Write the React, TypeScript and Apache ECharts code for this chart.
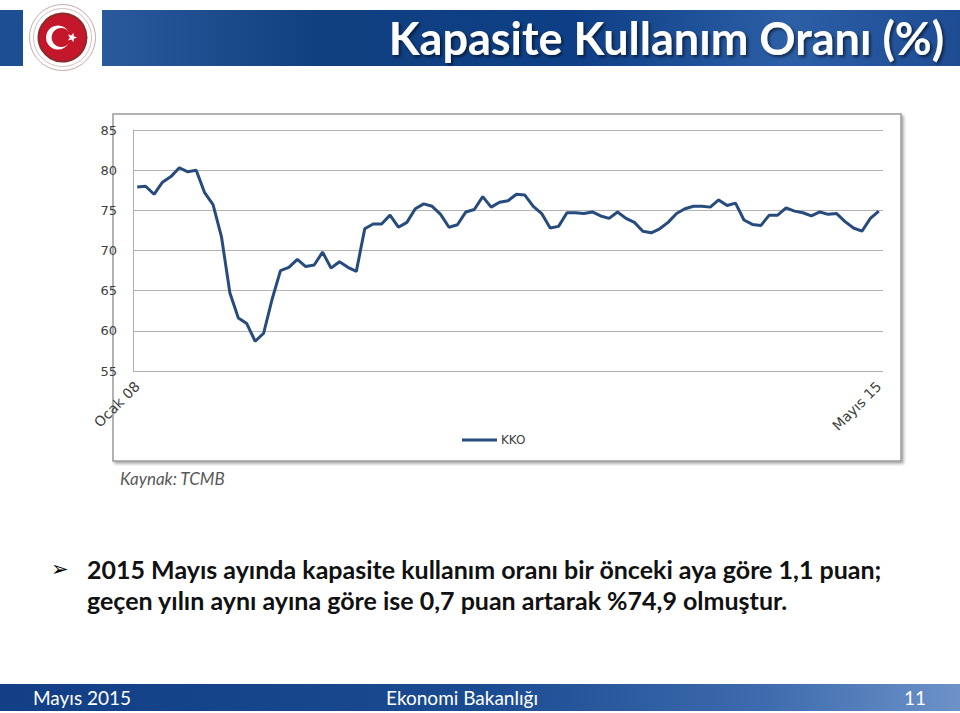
import React, { useEffect, useRef } from "react";
import * as echarts from "echarts";

const MONTHS = ["Ocak", "Şubat", "Mart", "Nisan", "Mayıs", "Haziran", "Temmuz", "Ağustos", "Eylül", "Ekim", "Kasım", "Aralık"];
const YEARS = ["08", "09", "10", "11", "12", "13", "14", "15"];
const LAST_MONTH_INDEX = 4; // Mayıs 15

const CATEGORIES: string[] = [];
YEARS.forEach((y, yi) => {
  MONTHS.forEach((m, mi) => {
    if (yi === YEARS.length - 1 && mi > LAST_MONTH_INDEX) return;
    CATEGORIES.push(m + " " + y);
  });
});

const KKO = [
  77.9, 78.0, 77.0, 78.5, 79.2, 80.3, 79.8, 80.0, 77.2, 75.7, 71.7, 64.7,
  61.6, 60.9, 58.7, 59.7, 63.9, 67.5, 67.9, 68.9, 68.0, 68.2, 69.8, 67.8,
  68.6, 67.9, 67.4, 72.7, 73.3, 73.3, 74.4, 72.9, 73.5, 75.2, 75.8, 75.5,
  74.5, 72.9, 73.2, 74.8, 75.1, 76.7, 75.4, 76.0, 76.2, 77.0, 76.9, 75.5,
  74.6, 72.8, 73.0, 74.7, 74.7, 74.6, 74.8, 74.3, 74.0, 74.8, 74.0, 73.5,
  72.4, 72.2, 72.7, 73.5, 74.6, 75.2, 75.5, 75.5, 75.4, 76.3, 75.6, 75.9,
  73.8, 73.25, 73.1, 74.4, 74.4, 75.3, 74.9, 74.7, 74.3, 74.8, 74.5, 74.6,
  73.6, 72.8, 72.4, 74.0, 74.9,
];

const Y_MIN = 55;
const Y_MAX = 85;
const Y_STEP = 5;

function starPoints(cx: number, cy: number, r: number, ri: number): number[][] {
  const pts: number[][] = [];
  for (let k = 0; k < 10; k++) {
    const a = (Math.PI / 5) * k;
    const rr = k % 2 === 0 ? r : ri;
    pts.push([cx + rr * Math.cos(a), cy + rr * Math.sin(a)]);
  }
  return pts;
}

export default function App() {
  const ref = useRef<HTMLDivElement>(null);
  useEffect(() => {
    if (!ref.current) return;
    const chart = echarts.init(ref.current, undefined, { renderer: "svg" });
    const lastIdx = CATEGORIES.length - 1;
    chart.setOption({
      animation: false,
      backgroundColor: "#ffffff",
      grid: { left: 133, right: 77, top: 130, bottom: 342 },
      xAxis: {
        type: "category",
        data: CATEGORIES,
        boundaryGap: true,
        z: 3,
        axisLine: { show: false },
        axisTick: { show: false },
        axisLabel: {
          interval: (i: number) => i === 0 || i === lastIdx,
          rotate: 45,
          margin: 13,
          fontSize: 14,
          fontFamily: "'DejaVu Sans', sans-serif",
          color: "#404040",
        },
      },
      yAxis: {
        type: "value",
        min: Y_MIN,
        max: Y_MAX,
        interval: Y_STEP,
        z: 3,
        axisLine: { show: true, lineStyle: { color: "#b0b0b0", width: 1 } },
        axisTick: { show: false },
        axisLabel: {
          margin: 16,
          fontSize: 13,
          fontFamily: "'DejaVu Sans', sans-serif",
          color: "#404040",
        },
        splitLine: { show: true, lineStyle: { color: "#b3b3b3", width: 1.2 } },
      },
      legend: {
        left: 462,
        top: 434,
        padding: 0,
        icon: "rect",
        itemWidth: 35,
        itemHeight: 3,
        itemGap: 4,
        textStyle: { fontSize: 12, color: "#404040", fontFamily: "'DejaVu Sans', sans-serif", padding: [0, 0, 0, -1] },
        data: ["KKO"],
      },
      series: [
        {
          name: "KKO",
          type: "line",
          data: KKO,
          z: 4,
          symbol: "none",
          smooth: false,
          lineStyle: { color: "#264b7c", width: 3 },
          itemStyle: { color: "#264b7c" },
        },
      ],
      graphic: [
        // header
        { type: "rect", z: 0, shape: { x: 0, y: 10, width: 23, height: 56 }, style: { fill: "#1d4e92" } },
        {
          type: "rect",
          z: 0,
          shape: { x: 102, y: 10, width: 858, height: 56 },
          style: {
            fill: new echarts.graphic.LinearGradient(0, 0, 1, 0, [
              { offset: 0, color: "#2a5a9c" },
              { offset: 0.25, color: "#10407f" },
              { offset: 0.55, color: "#0e3f86" },
              { offset: 0.8, color: "#2c5fa6" },
              { offset: 1, color: "#1d4c93" },
            ]),
          },
        },
        {
          type: "text",
          z: 1,
          style: {
            x: 944,
            y: 38,
            text: "Kapasite Kullanım Oranı (%)",
            align: "right",
            verticalAlign: "middle",
            font: "bold 45px Lato, 'Open Sans', sans-serif",
            fill: "#ffffff",
            textShadowColor: "rgba(0,0,0,0.55)",
            textShadowBlur: 3,
            textShadowOffsetX: 2,
            textShadowOffsetY: 2,
          },
        },
        // logo
        { type: "circle", z: 1, shape: { cx: 62.5, cy: 37.5, r: 33 }, style: { fill: "#ffffff", stroke: "#c9a9a9", lineWidth: 1 } },
        { type: "circle", z: 1, shape: { cx: 62.5, cy: 37.5, r: 29 }, style: { fill: "none", stroke: "#c8b0b0", lineWidth: 0.8 } },
        { type: "circle", z: 1, shape: { cx: 62.5, cy: 37.5, r: 24 }, style: { fill: "#c4172c", stroke: "#8e2a2a", lineWidth: 2 } },
        { type: "circle", z: 1, shape: { cx: 58, cy: 37.5, r: 12 }, style: { fill: "#ffffff" } },
        { type: "circle", z: 1, shape: { cx: 61.2, cy: 37.5, r: 9.6 }, style: { fill: "#c4172c" } },
        { type: "polygon", z: 1, shape: { points: starPoints(72, 37.5, 5, 2.1) }, style: { fill: "#ffffff" } },
        // chart frame
        {
          type: "rect",
          z: 0,
          shape: { x: 113, y: 114, width: 788, height: 347 },
          style: {
            fill: "#ffffff",
            stroke: "#9a9a9a",
            lineWidth: 1.5,
            shadowColor: "rgba(0,0,0,0.35)",
            shadowBlur: 3,
            shadowOffsetX: 2,
            shadowOffsetY: 2,
          },
        },
        {
          type: "text",
          z: 1,
          style: {
            x: 120,
            y: 478,
            text: "Kaynak: TCMB",
            verticalAlign: "middle",
            font: "italic 17px Lato, 'Open Sans', sans-serif",
            fill: "#595959",
          },
        },
        // bullet
        {
          type: "text",
          z: 1,
          style: {
            x: 51,
            y: 569,
            text: "➢",
            verticalAlign: "middle",
            font: "21px 'DejaVu Sans', sans-serif",
            fill: "#000000",
          },
        },
        {
          type: "text",
          z: 1,
          style: {
            x: 87,
            y: 569,
            text: "2015 Mayıs ayında kapasite kullanım oranı bir önceki aya göre 1,1 puan;",
            verticalAlign: "middle",
            font: "bold 25px Lato, 'Open Sans', sans-serif",
            fill: "#111111",
          },
        },
        {
          type: "text",
          z: 1,
          style: {
            x: 87,
            y: 600,
            text: "geçen yılın aynı ayına göre ise 0,7 puan artarak %74,9 olmuştur.",
            verticalAlign: "middle",
            font: "bold 25px Lato, 'Open Sans', sans-serif",
            fill: "#111111",
          },
        },
        // footer
        {
          type: "rect",
          z: 0,
          shape: { x: 0, y: 684, width: 960, height: 27 },
          style: {
            fill: new echarts.graphic.LinearGradient(0, 0, 1, 0, [
              { offset: 0, color: "#123f86" },
              { offset: 0.5, color: "#1a4a90" },
              { offset: 0.8, color: "#3e6cae" },
              { offset: 1, color: "#6d92c8" },
            ]),
          },
        },
        {
          type: "text",
          z: 1,
          style: { x: 33, y: 697.5, text: "Mayıs 2015", verticalAlign: "middle", font: "19px Lato, 'Open Sans', sans-serif", fill: "#ffffff" },
        },
        {
          type: "text",
          z: 1,
          style: { x: 462, y: 697.5, text: "Ekonomi Bakanlığı", align: "center", verticalAlign: "middle", font: "19px Lato, 'Open Sans', sans-serif", fill: "#ffffff" },
        },
        {
          type: "text",
          z: 1,
          style: { x: 926, y: 697.5, text: "11", align: "right", verticalAlign: "middle", font: "19px Lato, 'Open Sans', sans-serif", fill: "#ffffff" },
        },
      ],
    });
    return () => chart.dispose();
  }, []);
  return (
    <div
      ref={ref}
      style={{ position: "absolute", left: 0, top: 0, width: 960, height: 713, background: "#ffffff" }}
    />
  );
}
